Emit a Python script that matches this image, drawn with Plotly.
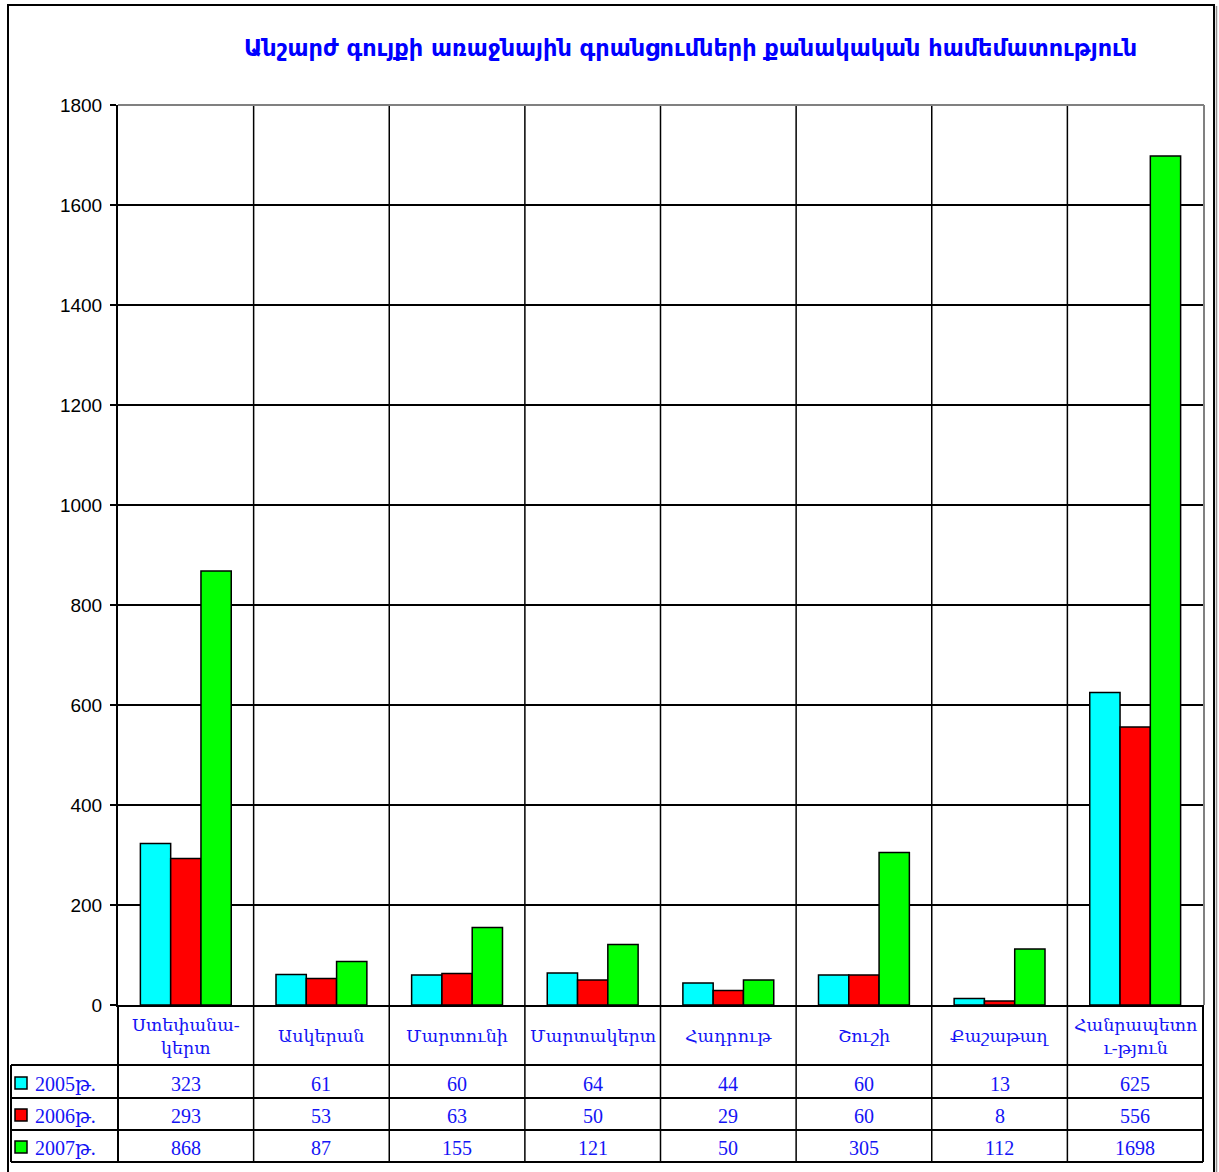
import plotly.graph_objects as go

# --- data ---
regions = ["Ստեփանակերտ", "Ասկերան", "Մարտունի", "Մարտակերտ",
           "Հադրութ", "Շուշի", "Քաշաթաղ", "Հանրապետություն"]
region_labels = ["Ստեփանա-<br>կերտ", "Ասկերան", "Մարտունի", "Մարտակերտ",
                 "Հադրութ", "Շուշի", "Քաշաթաղ", "Հանրապետո<br>ւ-թյուն"]
years = ["2005թ.", "2006թ.", "2007թ."]
v2005 = [323, 61, 60, 64, 44, 60, 13, 625]
v2006 = [293, 53, 63, 50, 29, 60, 8, 556]
v2007 = [868, 87, 155, 121, 50, 305, 112, 1698]
series = [v2005, v2006, v2007]
colors = ["#00FFFF", "#FF0000", "#00FF00"]
y_ticks = [0, 200, 400, 600, 800, 1000, 1200, 1400, 1600, 1800]
title = "Անշարժ գույքի առաջնային գրանցումների քանակական համեմատություն"

W, H = 1219, 1172
L, R, T, B = 118, 16, 105, 167
PW, PH = W - L - R, H - T - B


def px_y(p):
    """pixel row -> paper y"""
    return (H - B - p) / PH


def px_x(p):
    """pixel column -> paper x"""
    return (p - L) / PW


TXT = "#1414F5"
SERIF = "Liberation Serif, DejaVu Serif, serif"

fig = go.Figure()
for name, vals, col in zip(years, series, colors):
    fig.add_trace(go.Bar(
        x=regions, y=vals, name=name, marker_color=col,
        marker_line=dict(color="black", width=1.5), showlegend=False,
    ))

shapes = []
# table rows (pixel rows of horizontal rules)
row_lines = [1065, 1098, 1130, 1162]
n = len(regions)

# vertical separators between categories, running through the table
for i in range(n - 1):
    shapes.append(dict(type="line", xref="x", yref="paper",
                       x0=i + 0.5, x1=i + 0.5, y0=1, y1=px_y(1162),
                       line=dict(color="black", width=1.5), layer="below"))
# left edge under plot, right edge of table
shapes.append(dict(type="line", xref="paper", yref="paper", x0=0, x1=0,
                   y0=0, y1=px_y(1162), line=dict(color="black", width=2)))
shapes.append(dict(type="line", xref="paper", yref="paper", x0=px_x(1203), x1=px_x(1203),
                   y0=0, y1=px_y(1162), line=dict(color="black", width=2)))
# plot frame top and right in grey
shapes.append(dict(type="line", xref="paper", yref="paper", x0=0, x1=px_x(1204),
                   y0=1, y1=1, line=dict(color="#808080", width=2)))
shapes.append(dict(type="line", xref="paper", yref="paper", x0=px_x(1204), x1=px_x(1204),
                   y0=1, y1=0, line=dict(color="#808080", width=2)))
# horizontal table rules
for p in row_lines:
    shapes.append(dict(type="line", xref="paper", yref="paper",
                       x0=px_x(11), x1=px_x(1203), y0=px_y(p), y1=px_y(p),
                       line=dict(color="black", width=2)))
# left box of the legend column
shapes.append(dict(type="line", xref="paper", yref="paper", x0=px_x(11), x1=px_x(11),
                   y0=px_y(1065), y1=px_y(1162), line=dict(color="black", width=2)))
# outer frame
shapes.append(dict(type="rect", xref="paper", yref="paper",
                   x0=px_x(8), x1=px_x(1214), y0=px_y(1200), y1=px_y(5),
                   line=dict(color="black", width=2)))
shapes.append(dict(type="line", xref="paper", yref="paper", x0=px_x(1216.5), x1=px_x(1216.5),
                   y0=px_y(1200), y1=px_y(6), line=dict(color="#909090", width=1.5)))

annotations = []
# header row: category names
for i, lab in enumerate(region_labels):
    annotations.append(dict(x=i, xref="x", y=px_y(1036), yref="paper",
                            text=lab, showarrow=False, xanchor="center", yanchor="middle",
                            font=dict(family=SERIF, size=17.5, color=TXT)))
# data rows with colour keys
row_centers = [1083, 1115, 1147]
for r, (name, vals, col) in enumerate(zip(years, series, colors)):
    cy = row_centers[r]
    shapes.append(dict(type="rect", xref="paper", yref="paper",
                       x0=px_x(15), x1=px_x(27), y0=px_y(cy + 6), y1=px_y(cy - 6),
                       fillcolor=col, line=dict(color="black", width=1.5)))
    annotations.append(dict(x=px_x(33), xref="paper", y=px_y(cy + 1), yref="paper",
                            text=name, showarrow=False, xanchor="left", yanchor="middle",
                            font=dict(family=SERIF, size=20, color=TXT)))
    for i, v in enumerate(vals):
        annotations.append(dict(x=i, xref="x", y=px_y(cy + 1), yref="paper",
                                text=str(v), showarrow=False, xanchor="center",
                                yanchor="middle",
                                font=dict(family=SERIF, size=20, color=TXT)))

# chart title
annotations.append(dict(x=px_x(690), xref="paper", y=px_y(48), yref="paper",
                        text="<b>" + title + "</b>", showarrow=False,
                        xanchor="center", yanchor="middle",
                        font=dict(family="DejaVu Sans, sans-serif", size=22.4, color="#0000FF")))

fig.update_layout(
    width=W, height=H,
    margin=dict(l=L, r=R, t=T, b=B, pad=0),
    paper_bgcolor="white", plot_bgcolor="white",
    barmode="group", bargap=0.33, bargroupgap=0,
    shapes=shapes, annotations=annotations,
    xaxis=dict(type="category", categoryorder="array", categoryarray=regions,
               range=[-0.5, n - 0.5], showticklabels=False, ticks="",
               showgrid=False, showline=True, linecolor="black", linewidth=2,
               zeroline=False, fixedrange=True),
    yaxis=dict(range=[0, 1800], tickvals=y_ticks, ticks="outside", ticklen=6,
               tickwidth=1.5, tickcolor="black", ticklabelstandoff=4,
               showgrid=True, gridcolor="black", gridwidth=1.5,
               showline=True, linecolor="black", linewidth=2, zeroline=False,
               tickfont=dict(family="Liberation Sans, Arial, sans-serif", size=19,
                             color="black"),
               fixedrange=True),
)

fig.write_html("out.html")
